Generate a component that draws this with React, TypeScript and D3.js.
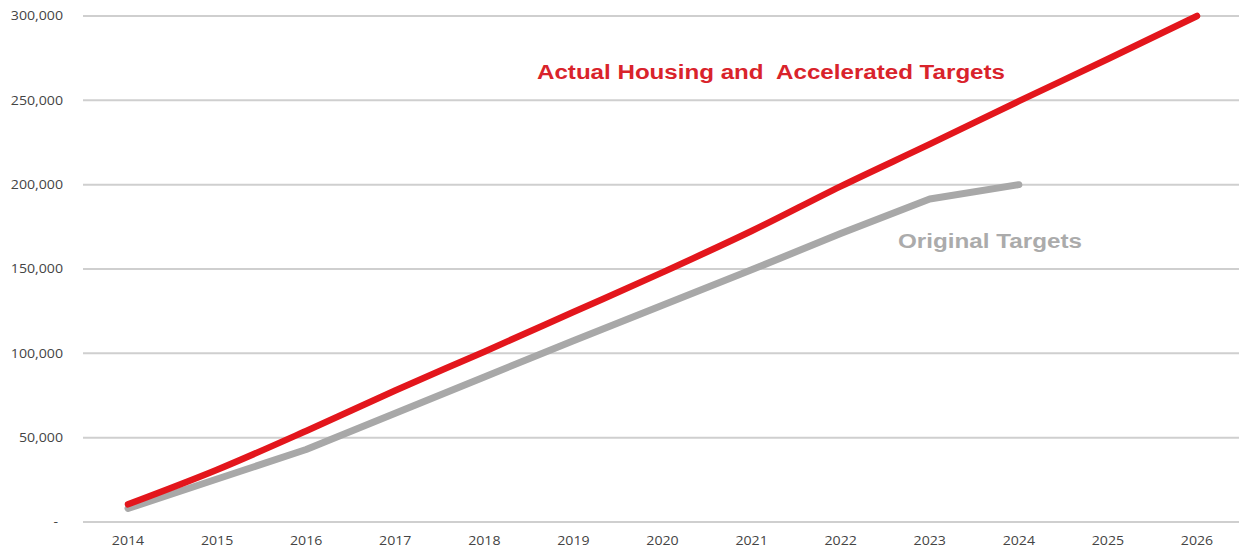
import { useMemo } from 'react';
import * as d3 from 'd3';

const WIDTH = 1239;
const HEIGHT = 552;

const years = [2014, 2015, 2016, 2017, 2018, 2019, 2020, 2021, 2022, 2023, 2024, 2025, 2026];
const actualAccelerated = [10500, 31000, 54000, 78000, 101000, 124500, 148000, 172500, 199000, 224000, 249500, 274500, 300000];
const originalTargets = [8000, 25500, 43000, 64500, 86000, 107500, 128500, 149500, 171000, 191500, 200000];
const yTicks = [0, 50000, 100000, 150000, 200000, 250000, 300000];

const PLOT = { left: 83, right: 1239, top: 16, bottom: 522 };
// the source picture is stretched sideways, so text gets a horizontal scale
const STRETCH = 1.18;

const App = () => {
  const xScale = useMemo(
    () => d3.scalePoint<number>().domain(years).range([128, 1197]),
    []
  );
  const yScale = useMemo(
    () => d3.scaleLinear().domain([0, 300000]).range([PLOT.bottom, PLOT.top]),
    []
  );

  const lineBuilder = (curve: d3.CurveFactory) =>
    d3
      .line<number>()
      .x((_, i) => xScale(years[i]) as number)
      .y((d) => yScale(d))
      .curve(curve);

  const fmt = d3.format(',');
  const tickFont = "'Open Sans', 'DejaVu Sans', sans-serif";

  return (
    <svg
      width={WIDTH}
      height={HEIGHT}
      style={{ position: 'absolute', left: 0, top: 0, background: '#fff' }}
      fontFamily="'Liberation Sans', Arial, sans-serif"
    >
      {yTicks.map((t) => (
        <g key={t}>
          <line
            x1={PLOT.left}
            x2={PLOT.right}
            y1={yScale(t)}
            y2={yScale(t)}
            stroke="#cfcfcf"
            strokeWidth={2}
          />
          <g transform={`translate(${t === 0 ? 58 : 63},${yScale(t)}) scale(${STRETCH},1)`}>
            <text dy="0.35em" textAnchor="end" fontSize={12} fill="#444" fontFamily={tickFont}>
              {t === 0 ? '-' : fmt(t)}
            </text>
          </g>
        </g>
      ))}
      {years.map((y) => (
        <g key={y} transform={`translate(${xScale(y)},545) scale(${STRETCH},1)`}>
          <text textAnchor="middle" fontSize={12} fill="#444" fontFamily={tickFont}>
            {y}
          </text>
        </g>
      ))}
      <path
        d={lineBuilder(d3.curveLinear)(originalTargets) || ''}
        fill="none"
        stroke="#a8a8a8"
        strokeWidth={7}
        strokeLinecap="round"
        strokeLinejoin="round"
      />
      <path
        d={lineBuilder(d3.curveMonotoneX)(actualAccelerated) || ''}
        fill="none"
        stroke="#e3161c"
        strokeWidth={6.5}
        strokeLinecap="round"
        strokeLinejoin="round"
      />
      <text
        x={537}
        y={79}
        fontSize={20}
        fontWeight="bold"
        fill="#d9232b"
        textLength={468}
        lengthAdjust="spacingAndGlyphs"
        style={{ whiteSpace: 'pre' }}
      >
        {'Actual Housing and  Accelerated Targets'}
      </text>
      <text
        x={898}
        y={248}
        fontSize={20}
        fontWeight="bold"
        fill="#ababab"
        textLength={184}
        lengthAdjust="spacingAndGlyphs"
      >
        Original Targets
      </text>
    </svg>
  );
};

export default App;
